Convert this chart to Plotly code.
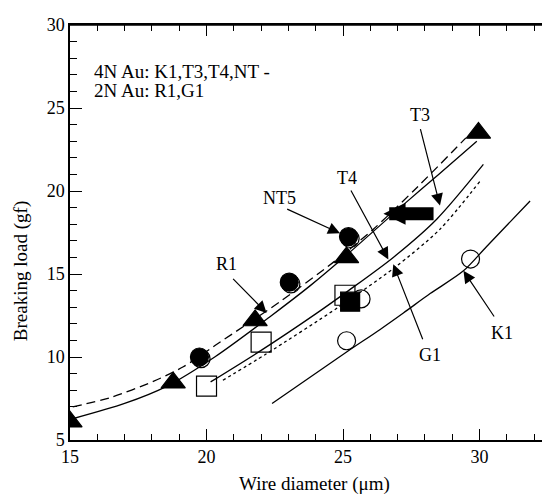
import plotly.graph_objects as go

# ---- data ----
# curves
t3_x = [15.1, 17.0, 18.5, 20.3, 22.3, 23.8, 25.1, 27.3, 28.5, 29.9]
t3_y = [6.28, 7.2, 8.2, 10.0, 12.4, 14.3, 16.1, 19.3, 21.0, 23.0]
nt_x = [15.1, 16.47, 18.05, 19.15, 20.31, 22.69, 24.64, 26.11, 27.7, 29.5]
nt_y = [7.0, 7.55, 8.53, 9.41, 10.69, 13.33, 15.7, 17.7, 20.2, 23.2]
t4_x = [20.15, 22.0, 24.0, 25.2, 26.84, 28.43, 30.14]
t4_y = [8.5, 10.4, 12.6, 14.0, 16.0, 18.3, 21.6]
g1_x = [20.6, 22.2, 24.83, 26.9, 28.55, 30.02]
g1_y = [8.6, 10.2, 13.0, 15.4, 17.7, 20.6]
k1_x = [22.4, 25.13, 26.36, 27.21, 28.19, 29.41, 30.26, 31.85]
k1_y = [7.2, 10.3, 11.66, 12.65, 13.82, 15.19, 16.66, 19.4]

# markers
tri_x = [15.0, 18.78, 21.78, 25.13, 29.96]
tri_y = [6.1, 8.45, 12.2, 16.0, 23.5]
fcirc_x = [19.74, 23.03, 25.2]
fcirc_y = [10.0, 14.51, 17.25]
ocirc_back_x = [19.8, 23.09, 25.26]
ocirc_back_y = [9.9, 14.4, 17.14]
ocirc_x = [25.66, 25.13, 29.67]
ocirc_y = [13.5, 10.98, 15.9]
osq_x = [20.0, 22.0, 25.07]
osq_y = [8.24, 10.9, 13.72]
fsq_x = [25.26]
fsq_y = [13.33]

# labels: text position, arrow tail, arrow head
labels = ["T3", "T4", "NT5", "R1", "G1", "K1"]
lab_tx = [27.82, 25.13, 22.69, 20.74, 28.19, 30.81]
lab_ty = [24.6, 20.78, 19.59, 15.59, 10.1, 11.47]
arr_x0 = [27.82, 25.26, 22.9, 20.92, 27.94, 30.57]
arr_y0 = [23.82, 20.12, 18.95, 14.8, 10.98, 12.35]
arr_x1 = [28.55, 26.66, 24.89, 22.2, 26.84, 29.41]
arr_y1 = [19.12, 15.88, 17.45, 12.65, 15.59, 15.19]
fat_x0, fat_y0, fat_x1, fat_y1 = 28.37, 18.63, 26.48, 18.63

note_lines = ["4N Au: K1,T3,T4,NT -", "2N Au: R1,G1"]
note_x = 15.79
note_y = [27.18, 26.06]

X_RANGE = [15, 32.58]
Y_RANGE = [5, 30]

FONT = "Times New Roman, Liberation Serif, serif"
K = "black"

fig = go.Figure()


def line(x, y, dash="solid"):
    fig.add_trace(go.Scatter(x=x, y=y, mode="lines",
                             line=dict(color=K, width=1.3, dash=dash, shape="spline", smoothing=0.8),
                             hoverinfo="skip", showlegend=False))


line(t3_x, t3_y)
line(nt_x, nt_y, "9px,5px")
line(t4_x, t4_y)
line(g1_x, g1_y, "3px,3px")
line(k1_x, k1_y)


def pts(x, y, symbol, size):
    fig.add_trace(go.Scatter(x=x, y=y, mode="markers",
                             marker=dict(symbol=symbol, size=size, color=K,
                                         line=dict(color=K, width=1.2)),
                             hoverinfo="skip", showlegend=False))


pts(ocirc_back_x, ocirc_back_y, "circle-open", 18)
pts(ocirc_x, ocirc_y, "circle-open", 18)
pts(osq_x, osq_y, "square-open", 20)
pts(fsq_x, fsq_y, "square", 19)
pts(fcirc_x, fcirc_y, "circle", 18)
pts(tri_x, tri_y, "triangle-up", 21)

ann = []
for t, tx, ty, x0, y0, x1, y1 in zip(labels, lab_tx, lab_ty, arr_x0, arr_y0, arr_x1, arr_y1):
    ann.append(dict(x=tx, y=ty, text=t, showarrow=False, font=dict(family=FONT, size=18, color=K)))
    ann.append(dict(x=x1, y=y1, ax=x0, ay=y0, axref="x", ayref="y", text="", showarrow=True,
                    arrowhead=2, arrowsize=2.0, arrowwidth=1.2, arrowcolor=K, standoff=0))
ann.append(dict(x=fat_x1, y=fat_y1, ax=fat_x0, ay=fat_y0, axref="x", ayref="y", text="",
                showarrow=True, arrowhead=2, arrowsize=0.34, arrowwidth=13, arrowcolor=K, standoff=0))
for t, ny in zip(note_lines, note_y):
    ann.append(dict(x=note_x, y=ny, text=t, showarrow=False, xanchor="left",
                    font=dict(family=FONT, size=19, color=K)))
ann.append(dict(xref="paper", yref="paper", x=0.51, y=-0.106, xanchor="center", yanchor="middle",
                text="Wire diameter (\u03bcm)",
                showarrow=False, font=dict(family=FONT, size=19, color=K)))
ann.append(dict(xref="paper", yref="paper", x=-0.102, y=0.407, xanchor="center", yanchor="middle",
                text="Breaking load (gf)",
                textangle=-90, showarrow=False, font=dict(family=FONT, size=19, color=K)))

minor_ticks = dict(dtick=1, ticks="inside", ticklen=6, tickcolor=K, tickwidth=1.2, showgrid=False)

# the page adds an 8px body margin, so margins are reduced on the top/left
fig.update_layout(
    width=550, height=494,
    margin=dict(l=62, r=8, t=7, b=62),
    paper_bgcolor="white", plot_bgcolor="white",
    annotations=ann,
    font=dict(family=FONT, size=18, color=K),
    xaxis=dict(range=X_RANGE, tick0=15, dtick=5, ticks="inside", ticklen=11, tickwidth=1.3,
               tickcolor=K, showline=True, linecolor=K, linewidth=1.5, mirror="allticks",
               showgrid=False, zeroline=False, ticklabeloverflow="allow",
               minor=minor_ticks, tickfont=dict(family=FONT, size=18, color=K)),
    yaxis=dict(range=Y_RANGE, tick0=5, dtick=5, ticks="inside", ticklen=12, tickwidth=1.3,
               tickcolor=K, showline=True, linecolor=K, linewidth=1.5, mirror=False,
               showgrid=False, zeroline=False, ticklabeloverflow="allow",
               minor=dict(dtick=1, ticks="inside", ticklen=7, tickcolor=K, tickwidth=1.2, showgrid=False),
               tickfont=dict(family=FONT, size=18, color=K)),
    shapes=[dict(type="line", xref="paper", yref="paper", x0=0, x1=1, y0=1, y1=1,
                 line=dict(color=K, width=1.5))],
)

fig.write_html("out.html")
